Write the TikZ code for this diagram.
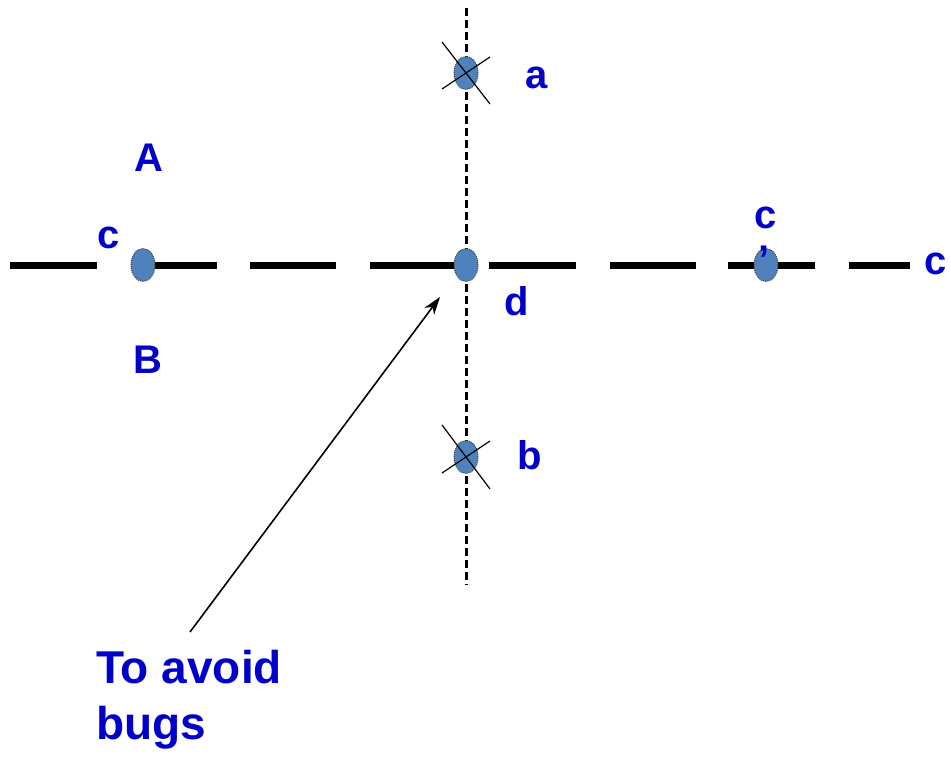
\documentclass[tikz,border=0pt]{standalone}
\usepackage{fontspec}
\setmainfont{Liberation Sans}
\usetikzlibrary{arrows.meta,shapes.geometric}
\definecolor{lbl}{RGB}{0,0,200}
\definecolor{dotfill}{RGB}{79,129,189}
\begin{document}
\begin{tikzpicture}[x=1pt,y=-1pt,
  thickdash/.style={line width=7pt},
  pt/.style={ellipse,draw=black!75,densely dotted,line width=1pt,fill=dotfill,minimum width=24pt,minimum height=33pt,inner sep=0pt},
  lab/.style={text=lbl,font=\fontsize{40}{42}\selectfont\bfseries,inner sep=0pt},
  crossln/.style={line width=1.2pt}]
\useasboundingbox (0,0) rectangle (951,757);
% horizontal dashed line
\foreach \a/\b in {10/97,145/217,250/336,370/465,489/576,610/696,728/815,849/910}
  \draw[thickdash] (\a,265) -- (\b,265);
% vertical dashed line
\coordinate (vt) at (466,8);
\coordinate (vb) at (466,585);
\draw[line width=3pt,dash pattern=on 8pt off 4pt] (vt) -- (vb);
% points
\node[pt] (pc) at (143,265) {};
\node[pt] (pa) at (466,73) {};
\node[pt] (pd) at (466,265) {};
\node[pt] (pb) at (466,457) {};
\node[pt] (pc2) at (766,265) {};
% crosses
\draw[crossln] (442,42) -- (490,104);
\draw[crossln] (442,89) -- (490,57);
\draw[crossln] (442,425) -- (490,489);
\draw[crossln] (442,473) -- (490,441);
% labels
\node[lab] (la) at (537,78) {a};
\node[lab] (lb) at (530,455) {b};
\node[lab] (ld) at (517,301) {d};
\node[lab] (lA) at (149,158) {A};
\node[lab] (lB) at (148,360) {B};
\node[lab] (lc1) at (109,238) {c};
\node[lab] (lc2) at (766,218) {c};
\node[lab] (lap) at (764,260) {’};
\node[lab] (lc3) at (936,264) {c};
\node[lab,anchor=north west,align=left,font=\fontsize{46}{56}\selectfont\bfseries] (txt) at (96,650) {To avoid\\bugs};
% arrow
\coordinate (arrstart) at (190,632);
\coordinate (arrend) at (440,297);
\draw[line width=1.6pt,-{Stealth[length=18pt,width=12pt]}] (arrstart) -- (arrend);
\end{tikzpicture}
\end{document}
